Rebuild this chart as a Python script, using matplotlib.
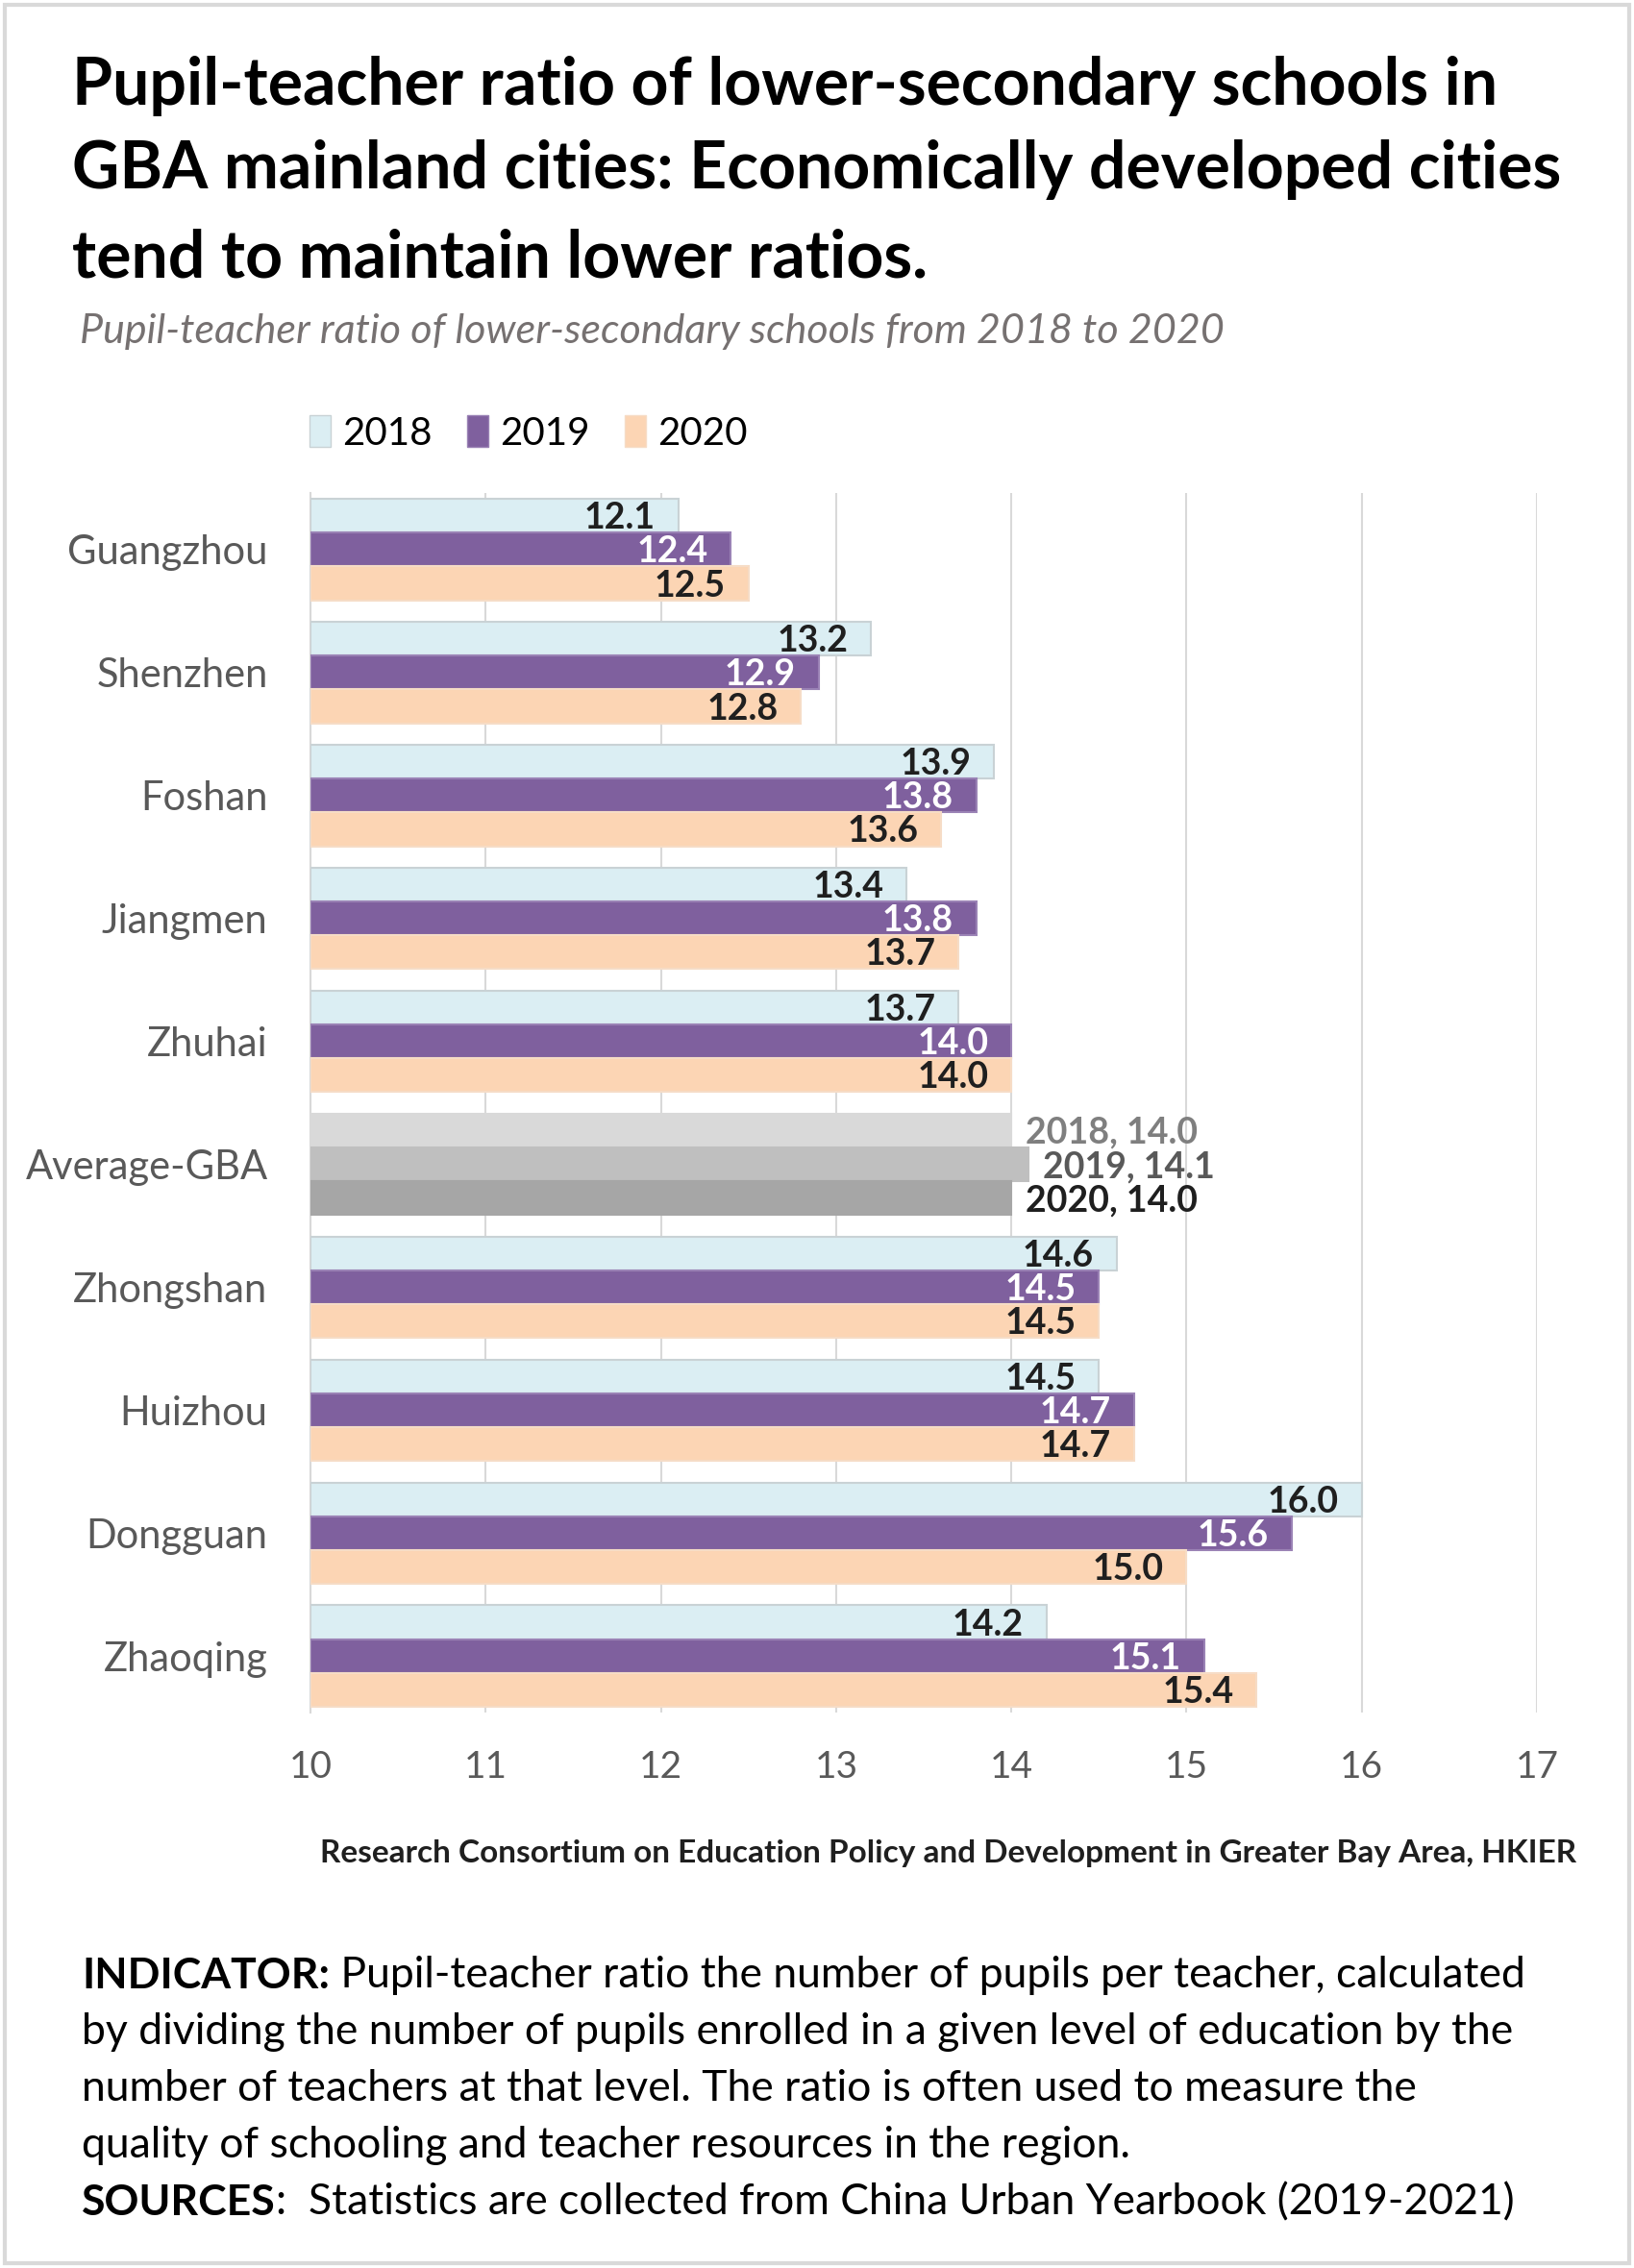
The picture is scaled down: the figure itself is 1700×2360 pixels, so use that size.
import numpy as np
import matplotlib
matplotlib.use('Agg')
import matplotlib.pyplot as plt
from matplotlib.patches import Rectangle, Patch

plt.rcParams['font.family'] = ['Lato', 'DejaVu Sans']

cities = ['Guangzhou', 'Shenzhen', 'Foshan', 'Jiangmen', 'Zhuhai', 'Average-GBA',
          'Zhongshan', 'Huizhou', 'Dongguan', 'Zhaoqing']
years = ['2018', '2019', '2020']
v2018 = [12.1, 13.2, 13.9, 13.4, 13.7, 14.0, 14.6, 14.5, 16.0, 14.2]
v2019 = [12.4, 12.9, 13.8, 13.8, 14.0, 14.1, 14.5, 14.7, 15.6, 15.1]
v2020 = [12.5, 12.8, 13.6, 13.7, 14.0, 14.0, 14.5, 14.7, 15.0, 15.4]

year_colors = ['#DBEEF3', '#7F609E', '#FCD5B4']
year_edges = ['#C9D2D5', '#9A82B5', '#F6DCC6']
label_colors = ['#1F1F1F', 'white', '#1F1F1F']
avg_colors = ['#D9D9D9', '#BFBFBF', '#A6A6A6']
avg_label_colors = ['#7F7F7F', '#595959', '#1F1F1F']

fig = plt.figure(figsize=(17, 23.6), dpi=100)
ax = fig.add_axes([0.19, 0.2449, 0.7506, 0.5377])

bh = 0.275
y = np.arange(len(cities))
series = [v2018, v2019, v2020]
avg_idx = cities.index('Average-GBA')

for k, vals in enumerate(series):
    pos = y + (k - 1) * bh
    colors = [avg_colors[k] if i == avg_idx else year_colors[k] for i in range(len(cities))]
    edges = [avg_colors[k] if i == avg_idx else year_edges[k] for i in range(len(cities))]
    ax.barh(pos, np.array(vals) - 10, left=10, height=bh, color=colors,
            edgecolor=edges, linewidth=1.5, zorder=3)
    for i, v in enumerate(vals):
        if i == avg_idx:
            ax.text(v + 0.08, pos[i] + 0.02, f'{years[k]}, {v:.1f}', ha='left', va='center',
                    fontsize=27, fontweight='bold', color=avg_label_colors[k], zorder=4)
        else:
            ax.text(v - 0.13, pos[i] + 0.02, f'{v:.1f}', ha='right', va='center',
                    fontsize=27, fontweight='bold', color=label_colors[k], zorder=4)

ax.set_xlim(10, 17)
ax.set_ylim(9.46, -0.46)
ax.set_xticks(range(10, 18))
ax.set_yticks(y)
ax.set_yticklabels(cities, fontsize=30, color='#595959')
ax.tick_params(axis='x', labelsize=28, labelcolor='#595959', length=0, pad=28)
ax.tick_params(axis='y', length=0, pad=32)
ax.grid(axis='x', color='#D9D9D9', linewidth=1.5, zorder=0)
for s in ['top', 'right', 'bottom']:
    ax.spines[s].set_visible(False)
ax.spines['left'].set_color('#D9D9D9')
ax.spines['left'].set_linewidth(1.5)

handles = [Patch(facecolor=year_colors[k], edgecolor=year_edges[k]) for k in range(3)]
fig.legend(handles, years, loc='center left', bbox_to_anchor=(0.168, 0.809), ncol=3,
           frameon=False, fontsize=29, handlelength=0.55, handleheight=0.9,
           handletextpad=0.3, columnspacing=0.9)

fig.text(0.044, 0.962, 'Pupil-teacher ratio of lower-secondary schools in', fontsize=49,
         fontweight='bold', va='center', ha='left')
fig.text(0.044, 0.925, 'GBA mainland cities: Economically developed cities', fontsize=49,
         fontweight='bold', va='center', ha='left')
fig.text(0.044, 0.886, 'tend to maintain lower ratios.', fontsize=49,
         fontweight='bold', va='center', ha='left')
fig.text(0.049, 0.854, 'Pupil-teacher ratio of lower-secondary schools from 2018 to 2020',
         fontsize=31, style='italic', color='#767171', va='center', ha='left')

fig.text(0.965, 0.183, 'Research Consortium on Education Policy and Development in Greater Bay Area, HKIER',
         fontsize=24, fontweight='bold', color='#1F1F1F', va='center', ha='right')

lines = [
    ('INDICATOR:', ' Pupil-teacher ratio the number of pupils per teacher, calculated'),
    ('', 'by dividing the number of pupils enrolled in a given level of education by the'),
    ('', 'number of teachers at that level. The ratio is often used to measure the'),
    ('', 'quality of schooling and teacher resources in the region.'),
    ('SOURCES', ':  Statistics are collected from China Urban Yearbook (2019-2021)'),
]
ys = [0.129, 0.104, 0.079, 0.054, 0.029]
for (bold, rest), yy in zip(lines, ys):
    x0 = 0.05
    if bold:
        t = fig.text(x0, yy, bold, fontsize=32, fontweight='bold', va='center', ha='left')
        fig.canvas.draw()
        bb = t.get_window_extent()
        x0 = bb.x1 / fig.bbox.width
    fig.text(x0, yy, rest, fontsize=32, va='center', ha='left')

fig.patches.append(Rectangle((0.003, 0.002), 0.994, 0.996, transform=fig.transFigure,
                             fill=False, edgecolor='#D9D9D9', linewidth=3))

fig.savefig('out.png', dpi=100, facecolor='white')
